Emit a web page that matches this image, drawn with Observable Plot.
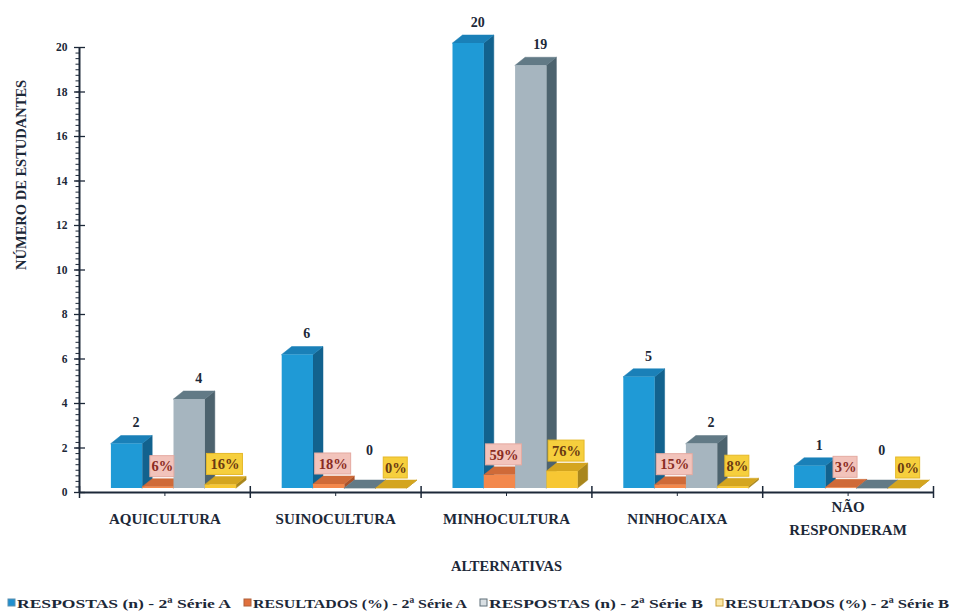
<!DOCTYPE html>
<html>
<head>
<meta charset="utf-8">
<script src="https://cdn.jsdelivr.net/npm/d3@7"></script>
<script src="https://cdn.jsdelivr.net/npm/@observablehq/plot@0.6"></script>
<style>
  html, body { margin: 0; padding: 0; background: #ffffff; }
  #chart { width: 957px; }
  svg { display: block; }
</style>
</head>
<body>
<div id="chart"></div>
<script>
// ---------- data ----------
const categories = ["AQUICULTURA", "SUINOCULTURA", "MINHOCULTURA", "NINHOCAIXA", "NÃO\nRESPONDERAM"];
const respostasA = [2, 6, 20, 5, 1];        // RESPOSTAS (n) - 2ª Série A
const resultadosA = [6, 18, 59, 15, 3];     // RESULTADOS (%) - 2ª Série A
const respostasB = [4, 0, 19, 2, 0];        // RESPOSTAS (n) - 2ª Série B
const resultadosB = [16, 0, 76, 8, 0];      // RESULTADOS (%) - 2ª Série B
const seriesNames = [
  "RESPOSTAS (n) - 2ª Série A",
  "RESULTADOS (%) - 2ª Série A",
  "RESPOSTAS (n) - 2ª Série B",
  "RESULTADOS (%) - 2ª Série B"
];
const yTicks = [0, 2, 4, 6, 8, 10, 12, 14, 16, 18, 20];

// ---------- layout ----------
const W = 957, H = 585;
const mL = 79, mR = 24, mT = 47, mB = 93;
const kx = (W - mL - mR) / 5;          // px per category
const ky = (H - mT - mB) / 20;         // px per unit
const barW = 31.3 / kx;
const firstOff = -53.5 / kx;
const depthX = 10 / kx, depthY = 8 / ky;
const baseDy = -4;
const ink = "#1c2838";

const series = [
  {name: seriesNames[0], values: respostasA, heights: respostasA, kind: "n",
   front: "#1f9ad6", top: "#1a80b8", side: "#12628e"},
  {name: seriesNames[1], values: resultadosA, heights: resultadosA.map(v => v / 100), kind: "pct",
   front: "#f3884c", top: "#cf6a38", side: "#a8522b", box: "#f2c3bb", boxStroke: "#e4aaa1", text: "#8a2b22"},
  {name: seriesNames[2], values: respostasB, heights: respostasB, kind: "n",
   front: "#a6b5bf", top: "#627a86", side: "#4d636e"},
  {name: seriesNames[3], values: resultadosB, heights: resultadosB.map(v => v / 100), kind: "pct",
   front: "#f7c733", top: "#d4a51f", side: "#a9861c", box: "#f6cf3d", boxStroke: "#e5b829", text: "#6a3a12"}
];

const marks = [];

// axis lines and ticks
marks.push(Plot.ruleY(yTicks, {x1: () => -0.5 - 5 / kx, x2: () => -0.5 + 6 / kx, stroke: ink, strokeWidth: 1.3}));
marks.push(Plot.ruleY(d3.range(0, 20.01, 0.25), {x1: () => -0.5 - 3.5 / kx, x2: () => -0.5, stroke: ink, strokeWidth: 1}));
marks.push(Plot.ruleX([-0.5], {stroke: ink, strokeWidth: 2}));
marks.push(Plot.ruleX(d3.range(-0.5, 4.6, 1), {y1: () => -6 / ky, y2: () => 6 / ky, stroke: ink, strokeWidth: 1.5}));
marks.push(Plot.ruleX(d3.range(0, 5, 1), {y1: () => -4 / ky, y2: () => 0, stroke: ink, strokeWidth: 1}));
marks.push(Plot.ruleY([0], {stroke: ink, strokeWidth: 2}));

// 3D bars
const allRows = [];
series.forEach((s, si) => {
  const rows = categories.map((cat, ci) => {
    const L = ci + firstOff + si * barW;
    return {id: ci, L, R: L + barW, h: s.heights[ci], v: s.values[ci], s};
  });
  allRows.push(rows);
  const sidePts = rows.flatMap(r => [
    {id: r.id, x: r.R, y1: 0, y2: r.h},
    {id: r.id, x: r.R + depthX, y1: depthY, y2: r.h + depthY}
  ]);
  const topPts = rows.flatMap(r => [
    {id: r.id, y: r.h, x1: r.L, x2: r.R},
    {id: r.id, y: r.h + depthY, x1: r.L + depthX, x2: r.R + depthX}
  ]);
  marks.push(Plot.areaY(sidePts, {x: "x", y1: "y1", y2: "y2", z: "id", fill: s.side, stroke: s.side, strokeWidth: 0.5, dy: baseDy}));
  marks.push(Plot.areaX(topPts, {y: "y", x1: "x1", x2: "x2", z: "id", fill: s.top, stroke: s.top, strokeWidth: 0.5, dy: baseDy}));
  marks.push(Plot.rect(rows, {x1: "L", x2: "R", y1: () => 0, y2: "h", fill: s.front, dy: baseDy}));
});

// labels
allRows.forEach(rows => {
  const s = rows[0].s;
  if (s.kind === "n") {
    marks.push(Plot.text(rows.filter(r => r.v > 0), {x: r => (r.L + r.R) / 2, y: "h", text: r => String(r.v),
      dx: 9, dy: baseDy - 21, fontSize: 14, fill: ink}));
    marks.push(Plot.text(rows.filter(r => r.v === 0), {x: r => (r.L + r.R) / 2, y: "h", text: r => String(r.v),
      dx: 9, dy: baseDy - 38, fontSize: 14, fill: ink}));
  } else {
    const lab = r => r.v + "%";
    const hw = r => (6 * lab(r).length) / kx;
    const cx = r => (r.L + r.R) / 2 + 4 / kx;
    marks.push(Plot.rect(rows, {x1: r => cx(r) - hw(r), x2: r => cx(r) + hw(r),
      y1: r => r.h + 10 / ky, y2: r => r.h + 31 / ky, dy: baseDy,
      fill: s.box, stroke: s.boxStroke, strokeWidth: 1}));
    marks.push(Plot.text(rows, {x: cx, y: r => r.h + 20.5 / ky, text: lab, dy: baseDy,
      fontSize: 14.5, fill: s.text}));
  }
});

// axis texts
marks.push(Plot.text(categories, {x: (d, i) => i, y: () => 0, dy: 24, lineAnchor: "middle", lineHeight: 1.5,
  fontSize: 15, fill: ink}));
marks.push(Plot.text(["ALTERNATIVAS"], {frameAnchor: "bottom", dy: 78, fontSize: 14.5, fill: ink}));
marks.push(Plot.text(["NÚMERO DE ESTUDANTES"], {frameAnchor: "left", rotate: -90, dx: -58, fontSize: 14.5, fill: ink}));

const chart = Plot.plot({
  width: W, height: H,
  marginLeft: mL, marginRight: mR, marginTop: mT, marginBottom: mB,
  x: {type: "linear", domain: [-0.5, 4.5], axis: null},
  y: {domain: [0, 20], ticks: yTicks, tickSize: 0, tickPadding: 12, label: null},
  style: {fontFamily: "'Liberation Serif', 'Times New Roman', serif", fontWeight: "bold", fontSize: "11.5px", color: ink, background: "#ffffff"},
  marks
});
document.getElementById("chart").appendChild(chart);

// legend
const legend = d3.create("svg").attr("width", W).attr("height", 29)
  .style("font-family", "'Liberation Serif', 'Times New Roman', serif").style("font-weight", "bold");
const legendFill = ["#1f8fcf", "#e0703d", "#d9dfe3", "#fbe7a6"];
const legendStroke = ["#5a8fb0", "#b0603a", "#5e6f78", "#c9a23a"];
series.forEach((s, i) => {
  const x0 = 8 + i * 236;
  const g = legend.append("g").attr("transform", `translate(${x0},18)`);
  g.append("rect").attr("x", 0).attr("y", -4).attr("width", 7).attr("height", 7)
    .attr("fill", legendFill[i]).attr("stroke", legendStroke[i]).attr("stroke-width", 1);
  g.append("text").attr("x", 9).attr("y", 0).attr("dy", "0.35em").attr("font-size", 13.5)
    .attr("fill", ink).attr("textLength", i === 3 ? 224 : 214).attr("lengthAdjust", "spacingAndGlyphs")
    .text(s.name);
});
document.getElementById("chart").appendChild(legend.node());
</script>
</body>
</html>
